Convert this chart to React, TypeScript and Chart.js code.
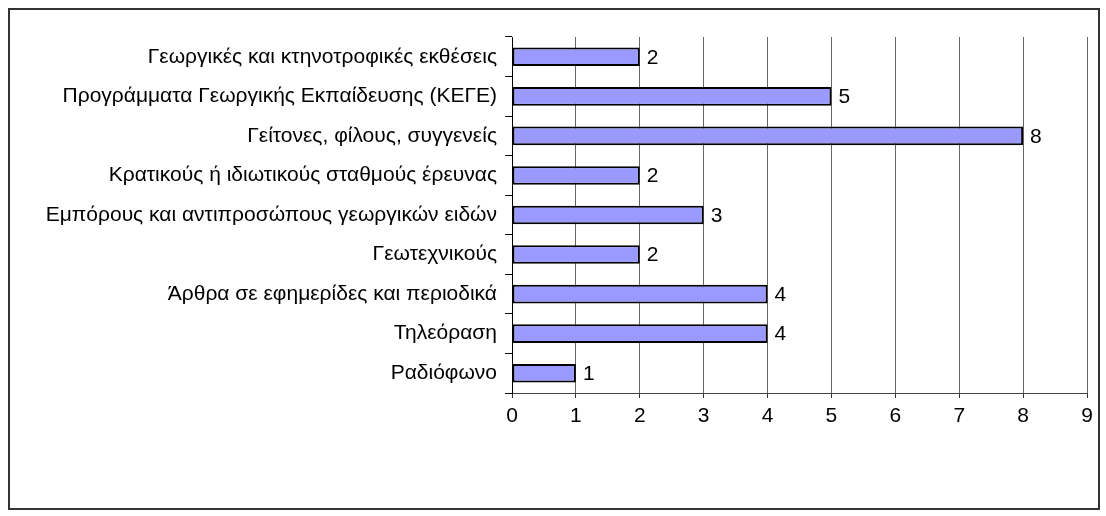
import React, { useEffect, useRef } from "react";
import { Chart, registerables } from "chart.js";

Chart.register(...registerables);

const categories: string[] = [
  "Γεωργικές και κτηνοτροφικές εκθέσεις",
  "Προγράμματα Γεωργικής Εκπαίδευσης (ΚΕΓΕ)",
  "Γείτονες, φίλους, συγγενείς",
  "Κρατικούς ή ιδιωτικούς σταθμούς έρευνας",
  "Εμπόρους και αντιπροσώπους γεωργικών ειδών",
  "Γεωτεχνικούς",
  "Άρθρα σε εφημερίδες και περιοδικά",
  "Τηλεόραση",
  "Ραδιόφωνο",
];
const values: number[] = [2, 5, 8, 2, 3, 2, 4, 4, 1];
const xMin = 0;
const xMax = 9;
const xStep = 1;

const FONT = "'Liberation Sans', Arial, sans-serif";
const FS = 21;

const valueLabels = {
  id: "valueLabels",
  afterDatasetsDraw(chart: any) {
    const ctx = chart.ctx;
    const meta = chart.getDatasetMeta(0);
    ctx.save();
    ctx.font = `${FS}px ${FONT}`;
    ctx.fillStyle = "#000";
    ctx.textAlign = "left";
    ctx.textBaseline = "middle";
    meta.data.forEach((bar: any, i: number) => {
      ctx.fillText(String(values[i]), bar.x + 7, bar.y + 1);
    });
    ctx.restore();
  },
};

export default function App() {
  const ref = useRef<HTMLCanvasElement>(null);
  useEffect(() => {
    if (!ref.current) return;
    const chart = new Chart(ref.current, {
      type: "bar",
      data: {
        labels: categories,
        datasets: [
          {
            data: values,
            backgroundColor: "#9999ff",
            borderColor: "#000",
            borderWidth: 2,
            borderSkipped: false,
            barPercentage: 0.47,
            categoryPercentage: 1,
          },
        ],
      },
      options: {
        indexAxis: "y",
        animation: false,
        responsive: false,
        maintainAspectRatio: false,
        layout: { padding: { top: 37, right: 19, left: 0, bottom: 0 } },
        plugins: {
          legend: { display: false },
          tooltip: { enabled: false },
        },
        scales: {
          x: {
            min: xMin,
            max: xMax,
            ticks: {
              stepSize: xStep,
              color: "#000",
              font: { family: FONT, size: FS },
              padding: 6,
              maxRotation: 0,
            },
            grid: {
              color: "#666",
              lineWidth: 1,
              drawOnChartArea: true,
              drawTicks: true,
              tickLength: 5,
              tickColor: "#333",
            },
            border: { display: true, color: "#444", width: 1 },
            afterFit: (s: any) => {
              s.height = 123;
            },
          },
          y: {
            ticks: {
              color: "#000",
              font: { family: FONT, size: FS },
              padding: 8,
              autoSkip: false,
            },
            grid: {
              offset: true,
              drawOnChartArea: false,
              drawTicks: true,
              tickLength: 7,
              tickColor: "#000",
            },
            border: { display: true, color: "#000", width: 1 },
            afterFit: (s: any) => {
              s.width = 512;
            },
          },
        },
      },
      plugins: [valueLabels],
    });
    return () => chart.destroy();
  }, []);

  return (
    <div
      style={{
        position: "fixed",
        left: 0,
        top: 0,
        width: 1106,
        height: 516,
        overflow: "hidden",
        background: "#fff",
      }}
    >
      <div
        style={{
          position: "absolute",
          left: 8,
          top: 8,
          width: 1088,
          height: 498,
          border: "2px solid #333",
        }}
      />
      <canvas
        ref={ref}
        width={1106}
        height={516}
        style={{ position: "absolute", left: 0, top: 0 }}
      />
    </div>
  );
}
